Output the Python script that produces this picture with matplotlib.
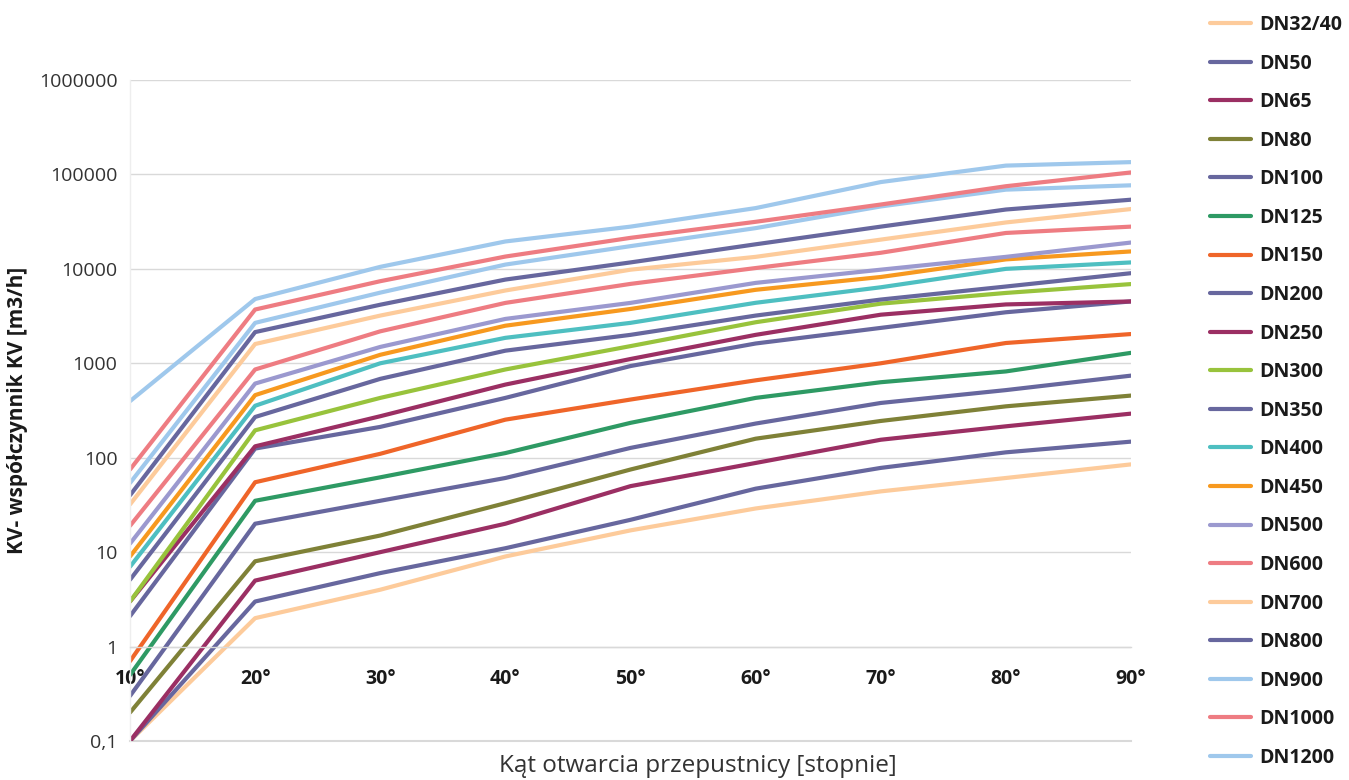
import matplotlib
matplotlib.use("Agg")
import matplotlib.pyplot as plt
from matplotlib.ticker import FixedLocator, FixedFormatter, NullLocator

plt.rcParams['font.family'] = ['Open Sans', 'DejaVu Sans']

angles = [10, 20, 30, 40, 50, 60, 70, 80, 90]
angle_labels = ["10°", "20°", "30°", "40°", "50°", "60°", "70°", "80°", "90°"]

series_names = ["DN32/40", "DN50", "DN65", "DN80", "DN100", "DN125", "DN150",
                "DN200", "DN250", "DN300", "DN350", "DN400", "DN450", "DN500",
                "DN600", "DN700", "DN800", "DN900", "DN1000", "DN1200"]

dn32_40 = [0.1, 2, 4, 9, 17, 29, 44, 61, 85]
dn50 = [0.1, 3, 6, 11, 22, 47, 78, 114, 148]
dn65 = [0.1, 5, 10, 20, 50, 88, 155, 215, 293]
dn80 = [0.2, 8, 15, 33, 75, 159, 245, 350, 455]
dn100 = [0.3, 20, 35, 61, 127, 230, 380, 520, 740]
dn125 = [0.5, 35, 62, 112, 234, 430, 630, 820, 1290]
dn150 = [0.7, 55, 110, 253, 413, 660, 1000, 1640, 2040]
dn200 = [2.1, 125, 212, 430, 935, 1620, 2370, 3470, 4520]
dn250 = [3, 132, 275, 595, 1110, 2000, 3270, 4200, 4520]
dn300 = [3, 195, 430, 860, 1520, 2720, 4280, 5560, 6900]
dn350 = [5.1, 270, 684, 1360, 2000, 3200, 4730, 6500, 9000]
dn400 = [7, 355, 1000, 1860, 2680, 4370, 6380, 10000, 11700]
dn450 = [9, 460, 1230, 2500, 3760, 6000, 8200, 12600, 15300]
dn500 = [12.3, 610, 1490, 2950, 4360, 7100, 9800, 13400, 19000]
dn600 = [19, 860, 2180, 4360, 6930, 10200, 14800, 24000, 28000]
dn700 = [32, 1600, 3200, 5900, 9800, 13400, 20400, 31000, 43000]
dn800 = [40, 2140, 4170, 7700, 11700, 18200, 28000, 42500, 54000]
dn900 = [54, 2680, 5600, 11100, 17400, 27000, 45800, 69000, 76700]
dn1000 = [75, 3710, 7400, 13500, 21300, 31500, 48000, 75000, 105000]
dn1200 = [397, 4790, 10500, 19500, 28000, 44000, 83000, 124000, 135000]

series_values = [dn32_40, dn50, dn65, dn80, dn100, dn125, dn150, dn200, dn250,
                 dn300, dn350, dn400, dn450, dn500, dn600, dn700, dn800, dn900,
                 dn1000, dn1200]

colors = ["#FDCB9B", "#67679E", "#9B2F63", "#7F8137", "#67679E", "#2E9A64",
          "#EF6529", "#67679E", "#9B2F63", "#98C33C", "#67679E", "#4EBFC1",
          "#F7991F", "#9B99CF", "#EE7C82", "#FDCB9B", "#67679E", "#9FC8EC",
          "#EE7C82", "#9FC8EC"]

ytick_values = [0.1, 1, 10, 100, 1000, 10000, 100000, 1000000]
ytick_labels = ["0,1", "1", "10", "100", "1000", "10000", "100000", "1000000"]

fig = plt.figure(figsize=(13.49, 7.80), dpi=100)
ax = fig.add_axes([130 / 1349, 1 - 741 / 780, (1131 - 130) / 1349, (741 - 80) / 780])

handles = []
for name, vals, col in zip(series_names, series_values, colors):
    h, = ax.plot(angles, vals, color=col, lw=3.0, label=name,
                 solid_capstyle='round', solid_joinstyle='round')
    handles.append(h)

ax.set_yscale('log')
ax.set_ylim(0.1, 1000000)
ax.set_xlim(10, 90)
ax.yaxis.set_major_locator(FixedLocator(ytick_values))
ax.yaxis.set_major_formatter(FixedFormatter(ytick_labels))
ax.yaxis.set_minor_locator(NullLocator())

ax.spines['bottom'].set_position(('data', 1))
ax.spines['bottom'].set_color('#D9D9D9')
ax.spines['bottom'].set_linewidth(1.0)
for s in ['top', 'right']:
    ax.spines[s].set_visible(False)
ax.spines['left'].set_color('#EEEEEE')
ax.spines['left'].set_linewidth(1.0)

ax.xaxis.set_major_locator(FixedLocator(angles))
ax.xaxis.set_major_formatter(FixedFormatter(angle_labels))
ax.xaxis.set_minor_locator(NullLocator())
ax.tick_params(axis='y', length=0, pad=9, labelsize=14, labelcolor='#333333')
ax.tick_params(axis='x', length=0, pad=16, labelsize=14, labelcolor='#1a1a1a')
for lbl in ax.get_xticklabels():
    lbl.set_fontweight('bold')

ax.grid(axis='y', color='#D9D9D9', lw=1.0)
ax.axhline(ytick_values[0], color='#D9D9D9', lw=1.5, clip_on=False, zorder=0)
ax.set_axisbelow(True)

fig.text(698 / 1349, 1 - 766 / 780, "Kąt otwarcia przepustnicy [stopnie]",
         ha='center', va='center', fontsize=17.5, color='#333333')
fig.text(18 / 1349, 1 - 410 / 780, "KV- współczynnik KV [m3/h]",
         ha='center', va='center', rotation=90, fontsize=15, fontweight='bold',
         color='#1a1a1a')

leg = fig.legend(handles=handles, labels=series_names, loc='upper left',
                 bbox_to_anchor=(1210 / 1349, 1 - 15 / 780), frameon=False,
                 borderpad=0, borderaxespad=0, handlelength=2.1,
                 handletextpad=0.45, labelspacing=0.955,
                 prop={'weight': 'bold', 'size': 14})
for t in leg.get_texts():
    t.set_color('#1a1a1a')

fig.savefig("out.png", dpi=100)
